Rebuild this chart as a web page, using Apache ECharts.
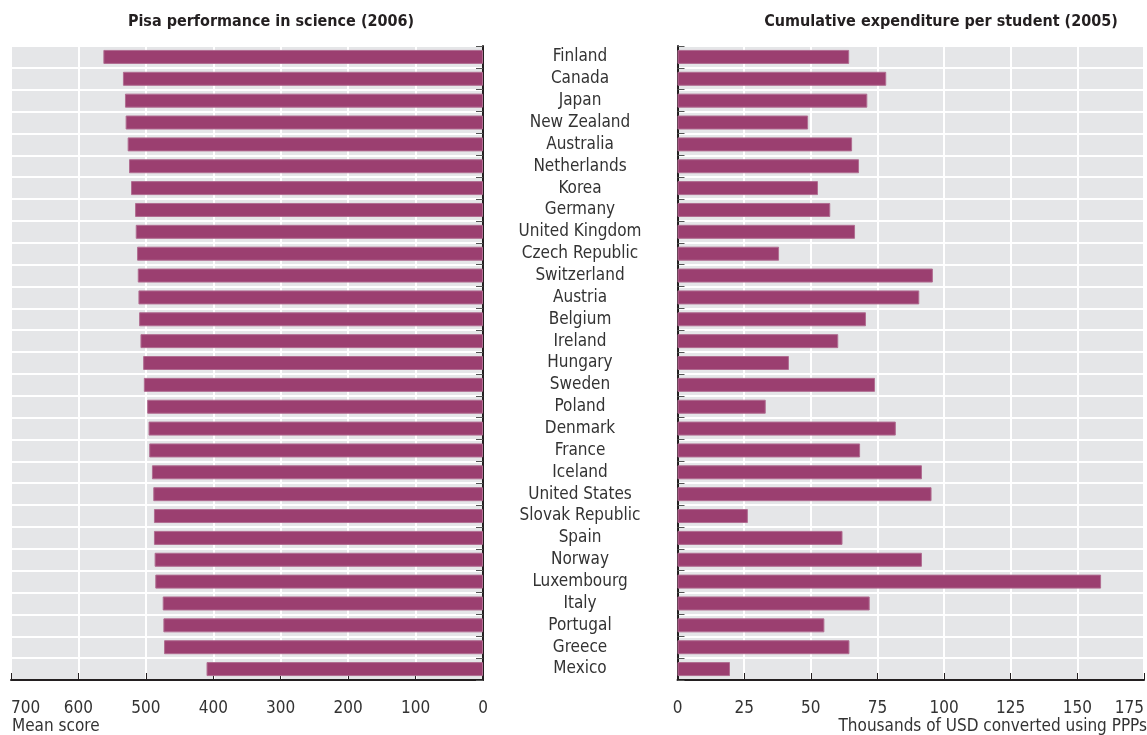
<!DOCTYPE html>
<html>
<head>
<meta charset="utf-8">
<script src="https://cdn.jsdelivr.net/npm/echarts@6/dist/echarts.min.js"></script>
<style>
html, body { margin: 0; padding: 0; background: #fff; }
#container { width: 1147px; height: 735px; }
</style>
</head>
<body>
<div id="container"></div>
<script>
// countries, top to bottom
var countries = ['Finland', 'Canada', 'Japan', 'New Zealand', 'Australia', 'Netherlands', 'Korea',
	'Germany', 'United Kingdom', 'Czech Republic', 'Switzerland', 'Austria', 'Belgium', 'Ireland',
	'Hungary', 'Sweden', 'Poland', 'Denmark', 'France', 'Iceland', 'United States', 'Slovak Republic',
	'Spain', 'Norway', 'Luxembourg', 'Italy', 'Portugal', 'Greece', 'Mexico'];
// mean score, PISA science 2006
var pisaScores = [563, 534, 531, 530, 527, 525, 522, 516, 515, 513, 512, 511, 510, 508,
	504, 503, 498, 496, 495, 491, 489, 488, 488, 487, 486, 475, 474, 473, 410];
// cumulative expenditure per student, thousands USD (PPP)
var expenditure = [64.4, 78.3, 71.2, 49.0, 65.5, 68.1, 52.7, 57.3, 66.6, 38.1, 95.8, 90.7, 70.7, 60.3,
	41.8, 74.1, 33.1, 81.9, 68.5, 91.7, 95.3, 26.4, 61.9, 91.7, 158.9, 72.1, 55.1, 64.5, 19.7];
var scoreTicks = { min: 0, max: 700, interval: 100 };
var spendTicks = { min: 0, max: 175, interval: 25 };

var font = "'Liberation Sans Narrow', 'DejaVu Sans Condensed', sans-serif";
var barColor = '#9b3f70';
var txt = '#333';

var dom = document.getElementById('container');
var myChart = echarts.init(dom);

var axisLine = { show: true, lineStyle: { color: '#231f20', width: 2 } };
var whiteSplit = { show: true, lineStyle: { color: '#fff', width: 2 } };

var option = {
	animation: false,
	grid: [
		{ left: 11, width: 472, top: 46, height: 634, show: true, backgroundColor: '#e5e6e8', borderWidth: 0 },
		{ left: 677.5, right: -2, top: 46, height: 634, show: true, backgroundColor: '#e5e6e8', borderWidth: 0 }
	],
	xAxis: [
		{
			type: 'value', gridIndex: 0, inverse: true,
			min: scoreTicks.min, max: scoreTicks.max, interval: scoreTicks.interval,
			axisLine: axisLine,
			axisTick: { show: true, inside: true, length: 7, lineStyle: { color: '#231f20' } },
			splitLine: whiteSplit,
			axisLabel: { color: txt, fontSize: 17, fontFamily: font, margin: 20, alignMaxLabel: 'left' }
		},
		{
			type: 'value', gridIndex: 1,
			min: spendTicks.min, max: spendTicks.max, interval: spendTicks.interval,
			axisLine: axisLine,
			axisTick: { show: true, inside: true, length: 7, lineStyle: { color: '#231f20' } },
			splitLine: whiteSplit,
			axisLabel: { color: txt, fontSize: 17, fontFamily: font, margin: 20, alignMaxLabel: 'right' }
		}
	],
	yAxis: [
		{
			type: 'category', gridIndex: 0, data: countries, inverse: true, position: 'right',
			axisLine: axisLine,
			axisTick: { show: true, inside: true, length: 7, lineStyle: { color: '#555' } },
			splitLine: whiteSplit,
			axisLabel: { interval: 0, color: txt, fontSize: 17, fontFamily: font, margin: 97, align: 'center' }
		},
		{
			type: 'category', gridIndex: 1, data: countries, inverse: true, position: 'left',
			axisLine: axisLine,
			axisTick: { show: true, inside: true, length: 7, lineStyle: { color: '#555' } },
			splitLine: whiteSplit,
			axisLabel: { show: false }
		}
	],
	series: [
		{
			name: 'Pisa performance in science (2006)', type: 'bar',
			xAxisIndex: 0, yAxisIndex: 0, data: pisaScores, barWidth: 14,
			itemStyle: { color: barColor, borderColor: '#b06d91', borderWidth: 1 }
		},
		{
			name: 'Cumulative expenditure per student (2005)', type: 'bar',
			xAxisIndex: 1, yAxisIndex: 1, data: expenditure, barWidth: 14,
			itemStyle: { color: barColor, borderColor: '#b06d91', borderWidth: 1 }
		}
	],
	graphic: [
		{ type: 'text', x: 271, y: 22, style: { text: 'Pisa performance in science (2006)', font: 'bold 16px ' + font, fill: '#231f20', align: 'center', verticalAlign: 'middle' } },
		{ type: 'text', x: 941, y: 22, style: { text: 'Cumulative expenditure per student (2005)', font: 'bold 16px ' + font, fill: '#231f20', align: 'center', verticalAlign: 'middle' } },
		{ type: 'text', x: 12, y: 727, style: { text: 'Mean score', font: '17px ' + font, fill: txt, align: 'left', verticalAlign: 'middle' } },
		{ type: 'text', x: 1147, y: 727, style: { text: 'Thousands of USD converted using PPPs', font: '17px ' + font, fill: txt, align: 'right', verticalAlign: 'middle' } }
	]
};

myChart.setOption(option);
</script>
</body>
</html>
